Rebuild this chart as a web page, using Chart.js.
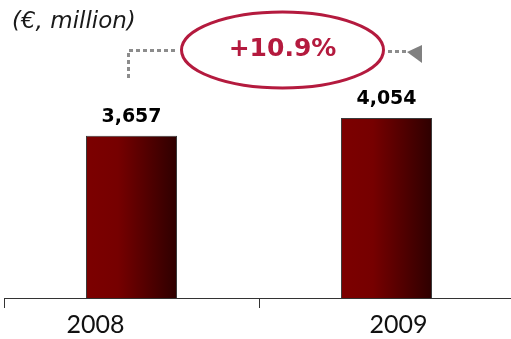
<!DOCTYPE html>
<html>
<head>
<meta charset="utf-8">
<script src="https://cdn.jsdelivr.net/npm/chart.js@4.4.1/dist/chart.umd.min.js"></script>
<style>
html,body{margin:0;padding:0;background:#fff;overflow:hidden;}
#wrap{width:516px;height:339px;position:relative;}
</style>
</head>
<body>
<div id="wrap"><canvas id="c"></canvas></div>
<script>
// ---- data ----
const categories = ['2008', '2009'];
const revenue = [3657, 4054];
const valueLabels = ['3,657', '4,054'];
const unitLabel = '(€, million)';
const growthLabel = '+10.9%';

// ---- style ----
const labelShift = [-36, 12];

function makeGradient(chart, bar) {
  const g = chart.ctx.createLinearGradient(bar.x - bar.width / 2, 0, bar.x + bar.width / 2, 0);
  g.addColorStop(0, '#7c0000');
  g.addColorStop(0.35, '#760000');
  g.addColorStop(1, '#2e0000');
  return g;
}

const gradientBars = {
  id: 'gradientBars',
  beforeDatasetsDraw(chart) {
    const meta = chart.getDatasetMeta(0);
    meta.data.forEach((bar) => {
      if (!isFinite(bar.x) || !isFinite(bar.width)) return;
      const opts = Object.assign({}, bar.options);
      opts.backgroundColor = makeGradient(chart, bar);
      bar.options = opts;
    });
  }
};

const decor = {
  id: 'decor',
  afterDraw(chart) {
    const c = chart.ctx;
    const xs = chart.scales.x;
    const meta = chart.getDatasetMeta(0);
    c.save();
    // unit title
    c.font = 'oblique 23px "DejaVu Sans"';
    c.fillStyle = '#1a1a1a';
    c.textAlign = 'left';
    c.textBaseline = 'alphabetic';
    c.fillText(unitLabel, 12, 28);
    // value labels
    c.font = 'bold 19px "DejaVu Sans"';
    c.fillStyle = '#000';
    c.textAlign = 'center';
    c.textBaseline = 'bottom';
    meta.data.forEach((bar, i) => {
      c.fillText(valueLabels[i], bar.x, bar.y - 9);
    });
    // category labels
    c.font = '25px Lato';
    c.fillStyle = '#111';
    c.textBaseline = 'alphabetic';
    categories.forEach((lab, i) => {
      c.fillText(lab, xs.getPixelForValue(i) + labelShift[i], 333);
    });
    // dotted connectors
    c.strokeStyle = '#8c8c8c';
    c.lineWidth = 3;
    c.setLineDash([4, 3]);
    c.beginPath();
    c.moveTo(128.5, 78);
    c.lineTo(128.5, 50.5);
    c.lineTo(177, 50.5);
    c.stroke();
    c.beginPath();
    c.moveTo(388, 51.5);
    c.lineTo(408, 51.5);
    c.stroke();
    c.setLineDash([]);
    c.fillStyle = '#808080';
    c.beginPath();
    c.moveTo(407, 52);
    c.lineTo(422, 45);
    c.lineTo(422, 63);
    c.closePath();
    c.fill();
    // ellipse
    c.strokeStyle = '#b41a3e';
    c.lineWidth = 3;
    c.beginPath();
    c.ellipse(282.5, 50, 101, 38, 0, 0, Math.PI * 2);
    c.stroke();
    c.font = 'bold 25px "DejaVu Sans"';
    c.fillStyle = '#b41a3e';
    c.textAlign = 'center';
    c.textBaseline = 'middle';
    c.fillText(growthLabel, 282.5, 49);
    c.restore();
  }
};

new Chart(document.getElementById('c'), {
  type: 'bar',
  data: {
    labels: categories,
    datasets: [{
      data: revenue,
      backgroundColor: (ctx) => '#760000',
      borderColor: '#3a3a3a',
      borderWidth: 1,
      barPercentage: 0.357,
      categoryPercentage: 1
    }]
  },
  options: {
    responsive: true,
    maintainAspectRatio: false,
    animation: false,
    layout: { padding: { left: 4, right: 2, top: 0, bottom: 31 } },
    plugins: { legend: { display: false }, tooltip: { enabled: false }, title: { display: false } },
    scales: {
      x: {
        offset: true,
        grid: { display: true, offset: true, drawOnChartArea: false, drawTicks: true, tickLength: 10, color: '#333', lineWidth: 1 },
        border: { display: true, color: '#333', width: 1 },
        ticks: { display: false }
      },
      y: {
        display: false,
        min: 0,
        max: 6712
      }
    }
  },
  plugins: [gradientBars, decor]
});
</script>
</body>
</html>
